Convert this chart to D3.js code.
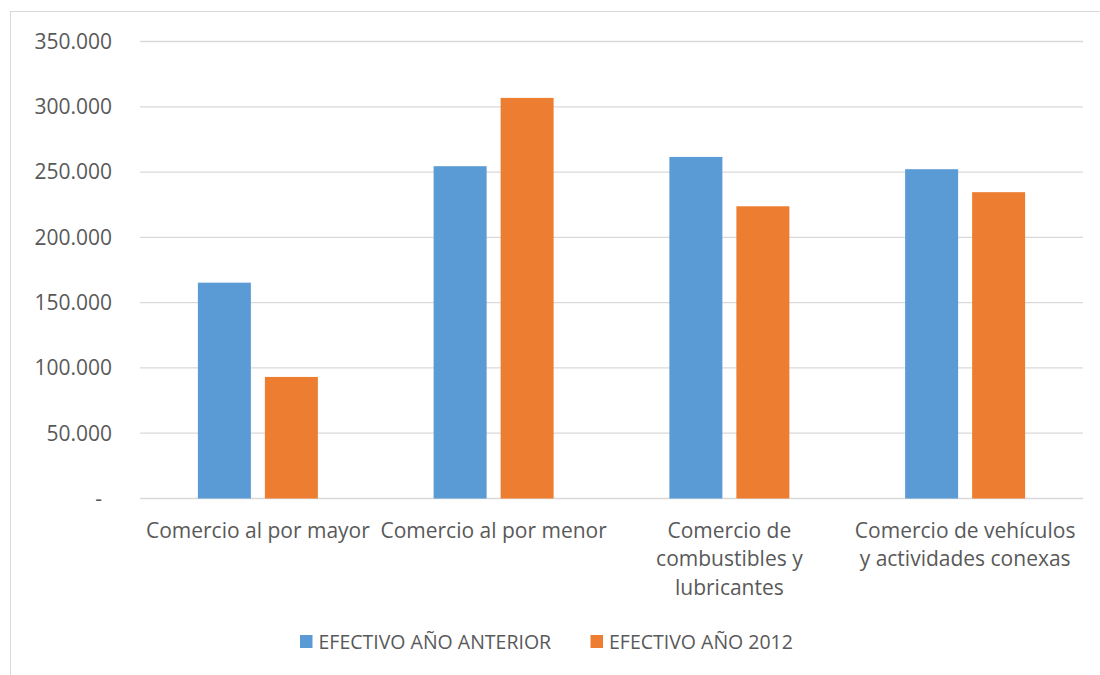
<!DOCTYPE html>
<html>
<head>
<meta charset="utf-8">
<script src="https://cdn.jsdelivr.net/npm/d3@7"></script>
<style>
  html, body { margin: 0; padding: 0; background: #fff; }
  svg text { font-family: "Open Sans", "Noto Sans", sans-serif; fill: #595959; }
</style>
</head>
<body>
<svg id="chart" width="1100" height="675"></svg>
<script>
// Categories (each entry holds the wrapped lines of its axis label)
const categories = [
  ["Comercio al por mayor"],
  ["Comercio al por menor"],
  ["Comercio de", "combustibles y", "lubricantes"],
  ["Comercio de vehículos", "y actividades conexas"]
];
const seriesNames = ["EFECTIVO AÑO ANTERIOR", "EFECTIVO AÑO 2012"];
const previousYear = [165300, 254500, 261600, 252200];
const year2012 = [93100, 306800, 223800, 234600];
const yTicks = [0, 50000, 100000, 150000, 200000, 250000, 300000, 350000];
const colors = ["#5b9bd5", "#ed7d31"];

const FONT = 21;
const LEGEND_FONT = 19.5;
const svg = d3.select("#chart");

// Outer chart border
svg.append("rect")
  .attr("x", 10.5).attr("y", 11.5)
  .attr("width", 1100).attr("height", 700)
  .attr("fill", "none").attr("stroke", "#d9d9d9").attr("stroke-width", 1);

const plot = { left: 140, right: 1083, top: 41.5, bottom: 498.5 };

const x = d3.scaleBand()
  .domain(d3.range(categories.length))
  .range([plot.left, plot.right]);

const y = d3.scaleLinear()
  .domain([0, 350000])
  .range([plot.bottom, plot.top]);

const barWidth = 53;
const barGap = 14;
const groupWidth = barWidth * 2 + barGap;
const xs = d3.scaleBand().domain([0, 1])
  .range([0, groupWidth])
  .paddingInner(barGap / (barWidth + barGap))
  .paddingOuter(0);

// Gridlines
svg.append("g")
  .selectAll("line")
  .data(yTicks)
  .join("line")
  .attr("x1", plot.left).attr("x2", plot.right)
  .attr("y1", d => y(d)).attr("y2", d => y(d))
  .attr("stroke", "#d9d9d9").attr("stroke-width", 1.3);

// Y axis labels
const fmt = d => d === 0 ? "-" : d3.format(",")(d).replace(/,/g, ".");
svg.append("g")
  .selectAll("text")
  .data(yTicks)
  .join("text")
  .attr("x", d => d === 0 ? 102 : 112)
  .attr("y", d => y(d))
  .attr("dy", "0.35em")
  .attr("text-anchor", "end")
  .attr("font-size", FONT)
  .text(fmt);

// Bars
const series = [previousYear, year2012];
series.forEach((vals, si) => {
  svg.append("g")
    .selectAll("rect")
    .data(vals)
    .join("rect")
    .attr("x", (d, i) => x(i) + (x.bandwidth() - groupWidth) / 2 + xs(si))
    .attr("width", xs.bandwidth())
    .attr("y", d => y(d))
    .attr("height", d => y(0) - y(d))
    .attr("fill", colors[si]);
});

// Category labels
const catG = svg.append("g");
categories.forEach((lines, i) => {
  const t = catG.append("text")
    .attr("x", x(i) + x.bandwidth() / 2)
    .attr("y", 537.5)
    .attr("text-anchor", "middle")
    .attr("font-size", FONT);
  lines.forEach((ln, k) => {
    t.append("tspan")
      .attr("x", x(i) + x.bandwidth() / 2)
      .attr("dy", k === 0 ? 0 : 28.5)
      .text(ln);
  });
});

// Legend
const legendItems = [{ x: 300 }, { x: 590.5 }];
const lg = svg.append("g");
seriesNames.forEach((name, i) => {
  lg.append("rect")
    .attr("x", legendItems[i].x).attr("y", 635)
    .attr("width", 12.5).attr("height", 13)
    .attr("fill", colors[i]);
  lg.append("text")
    .attr("x", legendItems[i].x + 18.5)
    .attr("y", 649)
    .attr("font-size", LEGEND_FONT)
    .text(name);
});
</script>
</body>
</html>
